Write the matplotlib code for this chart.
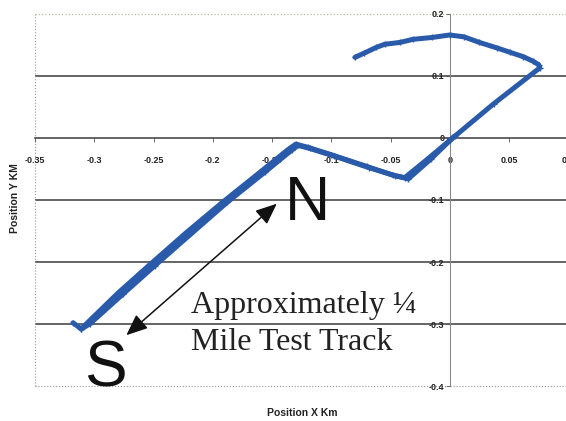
import matplotlib
matplotlib.use('Agg')
import matplotlib.pyplot as plt
import numpy as np

# GPS track (km)
# outbound: upper loop, down through origin, out to the south end
out_x = [-0.080, -0.072, -0.062, -0.055, -0.042, -0.031, -0.015, 0.000, 0.012,
         0.025, 0.040, 0.051, 0.062, 0.070, 0.075, 0.076, 0.037, 0.000,
         -0.020, -0.038, -0.048, -0.070, -0.100, -0.120, -0.130, -0.136,
         -0.160, -0.192, -0.222, -0.253, -0.280, -0.308, -0.311, -0.318]
out_y = [0.130, 0.137, 0.146, 0.151, 0.154, 0.159, 0.162, 0.166, 0.163,
         0.154, 0.145, 0.138, 0.131, 0.124, 0.118, 0.113, 0.055, -0.004,
         -0.036, -0.064, -0.060, -0.046, -0.027, -0.015, -0.010, -0.018,
         -0.055, -0.104, -0.152, -0.204, -0.250, -0.302, -0.308, -0.298]
# return leg back up the track
ret_x = [-0.311, -0.304, -0.276, -0.249, -0.218, -0.188, -0.156, -0.133,
         -0.128, -0.118, -0.098, -0.068, -0.046, -0.035, -0.016, 0.004]
ret_y = [-0.308, -0.300, -0.252, -0.206, -0.154, -0.104, -0.055, -0.019,
         -0.012, -0.017, -0.029, -0.048, -0.061, -0.066, -0.034, 0.003]

x_ticks = [-0.35, -0.3, -0.25, -0.2, -0.15, -0.1, -0.05, 0, 0.05, 0.1]
x_labels = ['-0.35', '-0.3', '-0.25', '-0.2', '-0.15', '-0.1', '-0.05', '0', '0.05', '0.1']
y_ticks = [-0.4, -0.3, -0.2, -0.1, 0, 0.1, 0.2]
y_labels = ['-0.4', '-0.3', '-0.2', '-0.1', '0', '0.1', '0.2']
grid_y = [0.1, -0.1, -0.2, -0.3]

track_col = '#2a5aaa'
tick_font = ['Liberation Sans Narrow', 'Liberation Sans', 'DejaVu Sans']

fig = plt.figure(figsize=(5.66, 4.21), dpi=100)
ax = fig.add_axes([0.062, 0.083, 0.942, 0.884])
ax.set_xlim(-0.35, 0.1)
ax.set_ylim(-0.4, 0.2)

for yy in grid_y:
    ax.axhline(yy, color='#3a3a3a', lw=1.1, zorder=1)
# dotted frame
ax.plot([-0.35, -0.35], [-0.4, 0.2], color='#999999', lw=0.8, ls=':', zorder=1, clip_on=False)
ax.plot([-0.35, 0.1], [0.2, 0.2], color='#b8b89a', lw=0.9, ls=':', zorder=1, clip_on=False)
ax.plot([-0.35, 0.1], [-0.4, -0.4], color='#999999', lw=0.8, ls=':', zorder=1, clip_on=False)

for s in ['top', 'right']:
    ax.spines[s].set_visible(False)
ax.spines['bottom'].set_position(('data', 0))
ax.spines['left'].set_position(('data', 0))
ax.spines['bottom'].set_color('#3a3a3a')
ax.spines['bottom'].set_linewidth(1.1)
ax.spines['left'].set_color('#8a8a8a')
ax.spines['left'].set_linewidth(0.8)

ax.set_xticks(x_ticks)
ax.set_xticklabels(x_labels, fontfamily=tick_font, fontsize=6.5, fontweight='bold', color='#222222')
ax.set_yticks(y_ticks)
ax.set_yticklabels(y_labels, fontfamily=tick_font, fontsize=6.5, fontweight='bold', color='#222222')
ax.tick_params(axis='x', direction='out', length=3, width=0.6, color='#555555', pad=10)
ax.tick_params(axis='y', direction='out', length=3, width=0.6, color='#555555', pad=1)

ax.plot(out_x, out_y, color=track_col, lw=3.6, solid_joinstyle='round',
        solid_capstyle='round', marker='+', ms=4, mew=1, zorder=3, clip_on=False)
ax.plot(ret_x, ret_y, color=track_col, lw=3.6, solid_joinstyle='round',
        solid_capstyle='round', marker='+', ms=4, mew=1, zorder=3)

ax.annotate('', xy=(-0.146, -0.106), xytext=(-0.273, -0.318),
            arrowprops=dict(arrowstyle='<|-|>,head_length=1.3,head_width=0.55',
                            color='#111111', lw=1.1, shrinkA=0, shrinkB=0), zorder=4)
ax.text(-0.120, -0.105, 'N', fontsize=45, family='Liberation Sans', ha='center',
        va='center', color='#111111', zorder=5)
ax.text(-0.291, -0.373, 'S', fontsize=46, family='Liberation Sans', ha='center',
        va='center', color='#111111', zorder=5, clip_on=False)
ax.text(-0.218, -0.282, 'Approximately ¼', fontsize=23,
        family='Liberation Serif', ha='left', va='baseline', color='#222222', zorder=5)
ax.text(-0.218, -0.342, 'Mile Test Track', fontsize=23,
        family='Liberation Serif', ha='left', va='baseline', color='#222222', zorder=5)

fig.text(0.534, 0.019, 'Position X Km', fontsize=7.5, fontweight='bold',
         family=tick_font, ha='center', va='center', color='#222222')
fig.text(0.027, 0.53, 'Position Y KM', fontsize=7.5, fontweight='bold',
         family='Liberation Sans', rotation=90, ha='center', va='center', color='#222222')

fig.savefig('out.png', dpi=100)
